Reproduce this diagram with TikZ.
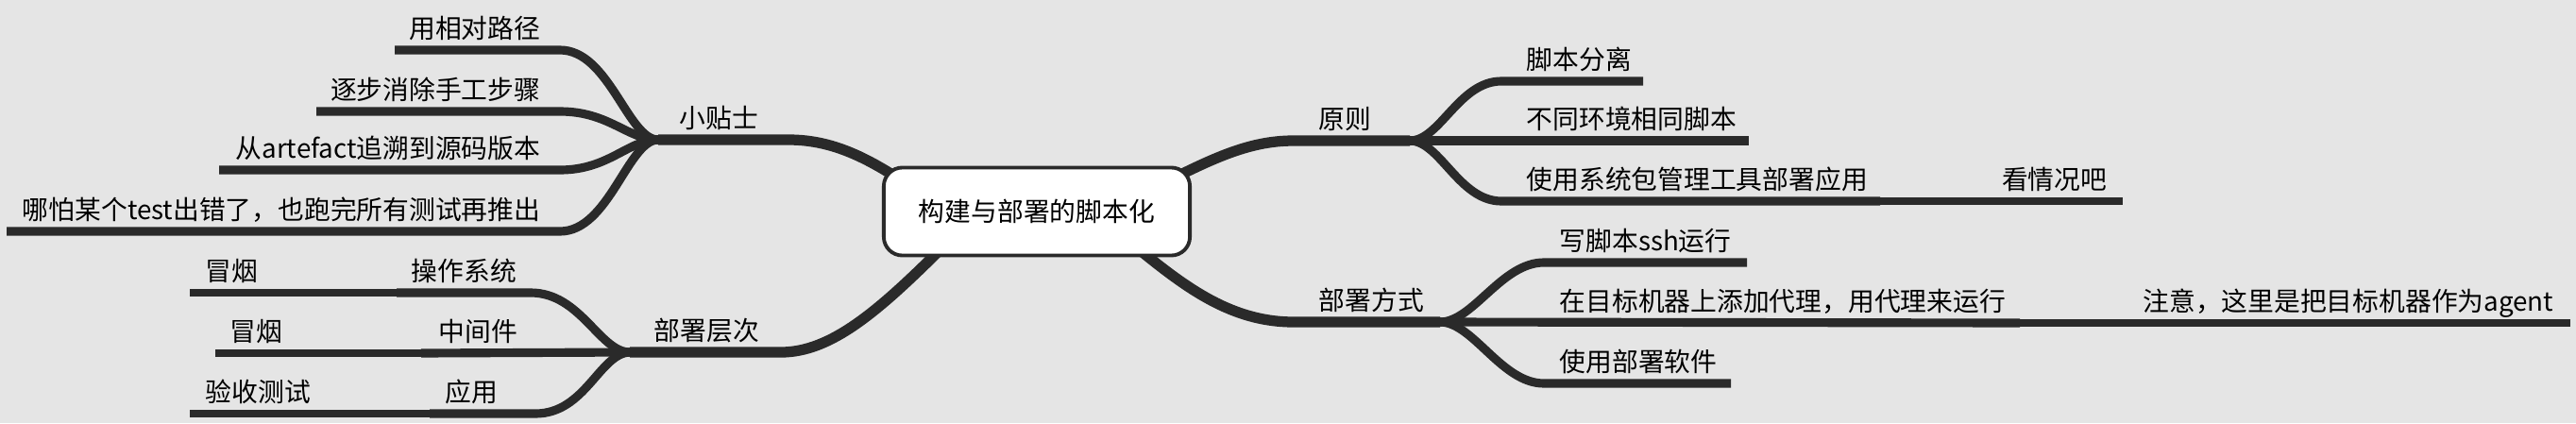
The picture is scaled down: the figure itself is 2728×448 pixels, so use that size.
\documentclass[tikz,border=0pt]{standalone}
\usepackage{fontspec}
\setmainfont{Noto Sans CJK SC}
\definecolor{bgc}{HTML}{E5E5E5}
\definecolor{branch}{HTML}{2A2A2A}
\pgfdeclarelayer{back}
\pgfdeclarelayer{lines}
\pgfsetlayers{back,lines,main}

\begin{document}
\begin{tikzpicture}[x=0.01cm,y=-0.01cm,line cap=round,
		font=\fontsize{7.9pt}{9pt}\selectfont,
		trunk/.style={draw=branch,line width=3.2pt},
		twig/.style={draw=branch,line width=2.6pt},
		leaf/.style={draw=branch,line width=2.2pt},
		lbl/.style={inner sep=0pt,anchor=base west},
		lblr/.style={inner sep=0pt,anchor=base east},
		root/.style={draw=branch,line width=1.1pt,fill=white,rounded corners=5.6pt,
			minimum width=3.24cm,minimum height=0.93cm,inner sep=0pt}]
	\begin{pgfonlayer}{back}
		\fill[bgc] (0,0) rectangle (2728,448);
	\end{pgfonlayer}
	\useasboundingbox (0,0) rectangle (2728,448);
	\node[root] (root) at (1098,224) {构建与部署的脚本化};
	\coordinate (tips) at (697,148);
	\coordinate (layers) at (667,373);
	\coordinate (rules) at (1493,149);
	\coordinate (ways) at (1525,341);
	\node[lbl] (tipslbl) at (719,135) {小贴士};
	\node[lbl] (layerslbl) at (692,360) {部署层次};
	\node[lbl] (ruleslbl) at (1396,136) {原则};
	\node[lbl] (wayslbl) at (1396,328) {部署方式};
	\begin{pgfonlayer}{lines}
		\draw[trunk] (tips) -- (835,148) .. controls (885,148) and (925,170) .. (975,205) -- (root.center);
		\draw[trunk] (layers) -- (827,373) .. controls (880,373) and (930,330) .. (1000,260) -- (root.center);
		\draw[trunk] (root.center) -- (1220,200) .. controls (1280,170) and (1320,149) .. (1370,149) -- (rules);
		\draw[trunk] (root.center) -- (1195,255) .. controls (1250,300) and (1300,341) .. (1370,341) -- (ways);
		% 小贴士
		\foreach \n/\y/\xs/\txt in {1/53/418/{用相对路径},2/118/335/{逐步消除手工步骤},
			3/180/232/{从artefact追溯到源码版本},4/245/7/{哪怕某个test出错了，也跑完所有测试再推出}}{
			\coordinate (tip\n) at (\xs,\y);
			\node[lblr] (tiplbl\n) at (573,\y-13) {\txt};
			\draw[twig] (tip\n) -- (593,\y) .. controls (645,\y) and (665,148) .. (tips);
		}
		% 部署层次
		\coordinate (osa) at (201,310);
		\coordinate (osb) at (420,310);
		\coordinate (mwa) at (228,374);
		\coordinate (mwb) at (446,374);
		\coordinate (appa) at (201,438);
		\coordinate (appb) at (455,438);
		\node[lbl] (oslbl) at (435,297) {操作系统};
		\node[lbl] (mwlbl) at (464,361) {中间件};
		\node[lbl] (applbl) at (471,425) {应用};
		\node[lbl] (smoke1) at (217,297) {冒烟};
		\node[lbl] (smoke2) at (243,361) {冒烟};
		\node[lbl] (accept) at (217,425) {验收测试};
		\draw[twig] (osb) -- (562,310) .. controls (615,310) and (635,373) .. (layers);
		\draw[twig] (mwb) -- (layers);
		\draw[twig] (appb) -- (567,438) .. controls (620,438) and (635,374) .. (layers);
		\draw[leaf] (osa) -- (osb);
		\draw[leaf] (mwa) -- (mwb);
		\draw[leaf] (appa) -- (appb);
		% 原则
		\coordinate (sep) at (1740,86);
		\coordinate (same) at (1852,149);
		\coordinate (pkg) at (1991,213);
		\coordinate (pkgend) at (2248,213);
		\node[lbl] (seplbl) at (1616,73) {脚本分离};
		\node[lbl] (samelbl) at (1616,136) {不同环境相同脚本};
		\node[lbl] (pkglbl) at (1616,200) {使用系统包管理工具部署应用};
		\node[lblr] (pkgnote) at (2232,200) {看情况吧};
		\draw[twig] (rules) .. controls (1525,149) and (1545,86) .. (1590,86) -- (sep);
		\draw[twig] (rules) -- (same);
		\draw[twig] (rules) .. controls (1525,149) and (1545,213) .. (1590,213) -- (pkg);
		\draw[leaf] (pkg) -- (pkgend);
		% 部署方式
		\coordinate (ssh) at (1850,278);
		\coordinate (agent) at (2139,342);
		\coordinate (agentend) at (2722,342);
		\coordinate (tool) at (1833,406);
		\node[lbl] (sshlbl) at (1651,265) {写脚本ssh运行};
		\node[lbl] (agentlbl) at (1651,329) {在目标机器上添加代理，用代理来运行};
		\node[lblr] (agentnote) at (2705,329) {注意，这里是把目标机器作为agent};
		\node[lbl] (toollbl) at (1651,393) {使用部署软件};
		\draw[twig] (ways) .. controls (1560,341) and (1590,278) .. (1635,278) -- (ssh);
		\draw[twig] (ways) -- (agent);
		\draw[twig] (ways) .. controls (1560,341) and (1590,406) .. (1635,406) -- (tool);
		\draw[leaf] (agent) -- (agentend);
	\end{pgfonlayer}
\end{tikzpicture}
\end{document}
